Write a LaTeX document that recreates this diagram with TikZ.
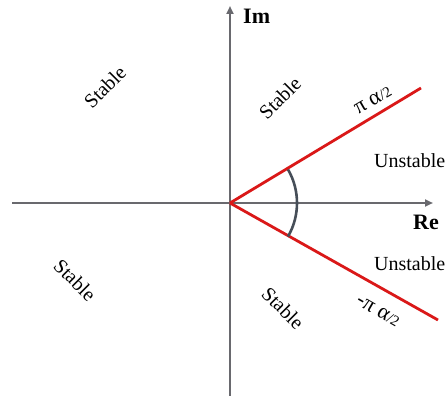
\documentclass[tikz,border=0pt]{standalone}
\usepackage{fontspec}
\setmainfont{Liberation Serif}
\usetikzlibrary{arrows.meta,calc}

\definecolor{axisgray}{RGB}{105,105,110}
\definecolor{arcgray}{RGB}{70,78,88}
\definecolor{borderred}{RGB}{218,24,24}

\begin{document}
\begin{tikzpicture}[
x=1pt, y=-1pt,
every node/.style={
    inner sep=0pt,
    font=\fontsize{20}{22}\selectfont
},
axislabel/.style={font=\fontsize{22}{24}\selectfont\bfseries},
anglelabel/.style={font=\fontsize{22}{24}\selectfont},
axis/.style={draw=axisgray, line width=2pt, -{Triangle[length=8pt,width=7pt]}},
border/.style={draw=borderred, line width=2.8pt},
>=Stealth
]

\useasboundingbox (0,0) rectangle (448,396);

\coordinate (O) at (230,203);
\coordinate (west) at (12,203);
\coordinate (east) at (433,203);
\coordinate (south) at (230,396);
\coordinate (north) at (230,6);
\coordinate (upper) at (421,88);
\coordinate (lower) at (438,320);

% axes
\draw[axis] (west)--(east);
\draw[axis] (south)--(north);

% stability borders
\draw[border] (O)--(upper);
\draw[border] (O)--(lower);
\draw[arcgray, line width=2.6pt] ($(O)+(-30:67pt)$) arc[start angle=-30, end angle=30, radius=67pt];

\node[axislabel, anchor=west] (im) at (243,16) {Im};
\node[axislabel] (re) at (426,222) {Re};

\node[rotate=45] (stabletl) at (105,87) {Stable};
\node[rotate=45] (stabletr) at (280,98) {Stable};
\node[rotate=-45] (stablebl) at (75,280) {Stable};
\node[rotate=-45] (stablebr) at (283,308) {Stable};

\node[anchor=west] (unstableup) at (374,161) {Unstable};
\node[anchor=west] (unstablelow) at (374,264) {Unstable};

\node[anglelabel, rotate=30] (angleup) at (373,100) {π α{\fontsize{15}{16}\selectfont/2}};
\node[anglelabel, rotate=-30] (anglelow) at (378,311) {-π α{\fontsize{15}{16}\selectfont/2}};

\end{tikzpicture}
\end{document}
